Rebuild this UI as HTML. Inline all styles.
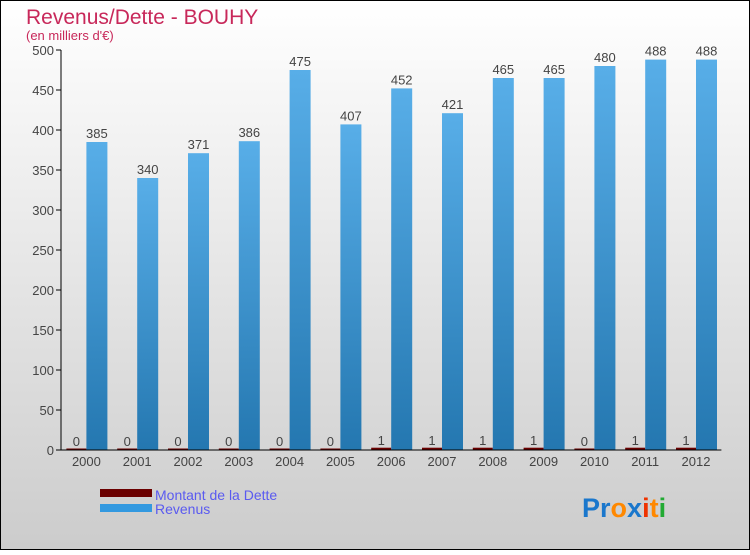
<!DOCTYPE html>
<html><head><meta charset="utf-8"><style>
body{margin:0;width:750px;height:550px;overflow:hidden;font-family:"Liberation Sans",sans-serif}
</style></head><body>
<svg width="750" height="550" xmlns="http://www.w3.org/2000/svg">
<defs>
<linearGradient id="bg" x1="0" y1="0" x2="0" y2="1"><stop offset="0" stop-color="#ffffff"/><stop offset="1" stop-color="#cccccc"/></linearGradient>
<linearGradient id="rev" x1="0" y1="0" x2="0" y2="1"><stop offset="0" stop-color="#58aee8"/><stop offset="1" stop-color="#2477b0"/></linearGradient>
</defs>
<rect x="0.5" y="0.5" width="749" height="549" fill="url(#bg)" stroke="#000"/>
<text x="26" y="24" font-size="21" fill="#c8285a">Revenus/Dette - BOUHY</text>
<text x="26" y="40" font-size="13" fill="#c8285a">(en milliers d'€)</text>
<g id="plot"></g>
<g>
<rect x="100" y="489" width="52" height="8" fill="#6b0000"/>
<text x="155" y="500" font-size="14" fill="#5a5af0">Montant de la Dette</text>
<rect x="100" y="504" width="52" height="8" fill="#3399e0"/>
<text x="155" y="514" font-size="14" fill="#5a5af0">Revenus</text>
</g>
<text x="582" y="517" font-size="27" font-weight="bold"><tspan fill="#1a77cc">Pr</tspan><tspan fill="#ff8800">o</tspan><tspan fill="#1a77cc">x</tspan><tspan fill="#ee3300">i</tspan><tspan fill="#ff8800">t</tspan><tspan fill="#22aa33">i</tspan></text>
</svg>
<script>
const years=["2000","2001","2002","2003","2004","2005","2006","2007","2008","2009","2010","2011","2012"];
const revenus=[385,340,371,386,475,407,452,421,465,465,480,488,488];
const dette=[0,0,0,0,0,0,1,1,1,1,0,1,1];
const yTicks=[0,50,100,150,200,250,300,350,400,450,500];
const NS="http://www.w3.org/2000/svg";
const x0=61,bw=50.8,y0=450,ys=0.8;
const X=i=>x0+i*bw;
const Y=v=>y0-v*ys;
const g=document.getElementById('plot');
function mk(t,a,txt){const e=document.createElementNS(NS,t);for(const k in a)e.setAttribute(k,a[k]);if(txt!==undefined)e.textContent=txt;g.appendChild(e);return e;}
yTicks.forEach(v=>{
 const t=mk('line',{x1:56,x2:61,y1:Y(v),y2:Y(v),stroke:'#000'});
 
 
 const l=mk('text',{x:54,y:Y(v)+5,'font-size':13,'text-anchor':'end',fill:'#444'},v);
 
 
});
years.forEach((yr,i)=>{
 const c=X(i)+bw/2;
 const d=mk('rect',{x:c-20,y:Y(dette[i])-1.5,width:20,height:dette[i]*ys+1.5,fill:'#6b0000'});
 
 
 const dl=mk('text',{x:c-10,y:Y(dette[i])-4,'font-size':13,'text-anchor':'middle',fill:'#444'},dette[i]);
 
 
 const r=mk('rect',{x:c,y:Y(revenus[i]),width:21,height:revenus[i]*ys,fill:'url(#rev)'});
 
 
 const rl=mk('text',{x:c+10.5,y:Y(revenus[i])-4,'font-size':13,'text-anchor':'middle',fill:'#444'},revenus[i]);
 
 
 const xl=mk('text',{x:c,y:466,'font-size':13,'text-anchor':'middle',fill:'#444'},yr);
 
 
});
const ya=mk('line',{x1:61,x2:61,y1:Y(500),y2:y0,stroke:'#000'});


const xa=mk('line',{x1:61,x2:X(years.length),y1:y0,y2:y0,stroke:'#000'});


</script>
</body></html>
